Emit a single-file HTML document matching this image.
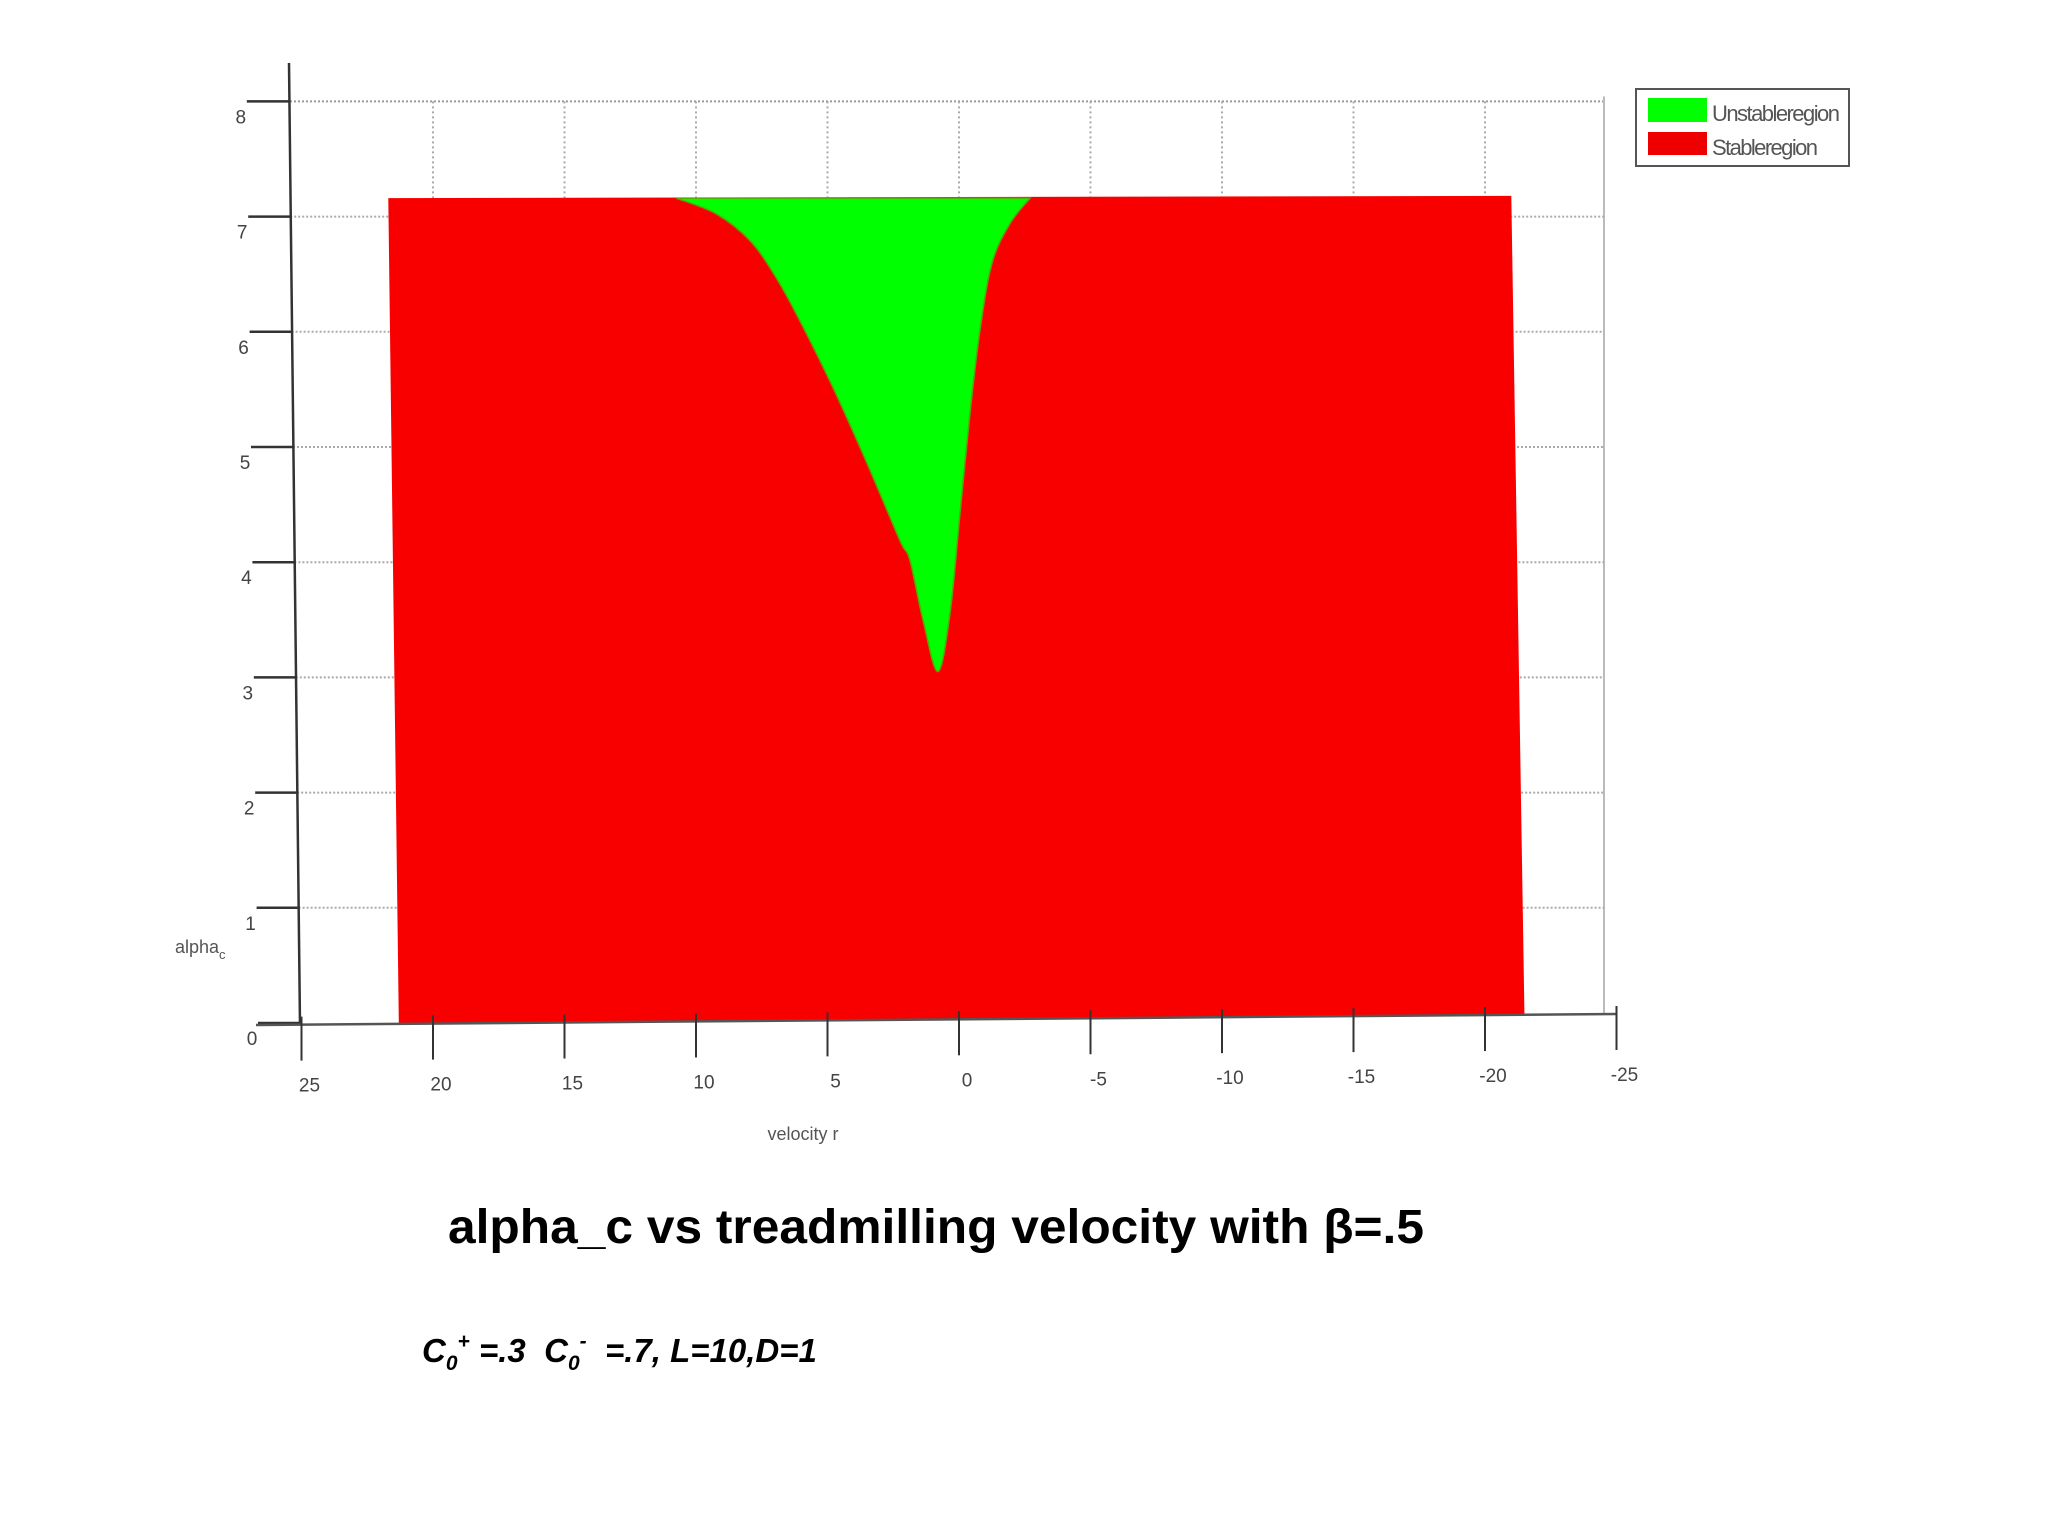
<!DOCTYPE html>
<html><head><meta charset="utf-8"><style>
html,body{margin:0;padding:0;background:#fff;}
svg{display:block;}
text{font-family:"Liberation Sans",sans-serif;}
</style></head><body>
<svg id="chart" width="2048" height="1536" viewBox="0 0 2048 1536" xmlns="http://www.w3.org/2000/svg">
<g id="grid"></g>
<g id="plot"></g>
<g id="axes"></g>
<g>
<rect x="1636" y="89" width="213" height="77" fill="#fff" stroke="#555" stroke-width="2"/>
<rect x="1648" y="98" width="59" height="24" fill="#00ff00"/>
<text x="1712" y="121" font-size="22" fill="#555" textLength="128">Unstableregion</text>
<rect x="1648" y="132" width="59" height="23" fill="#ee0000"/>
<text x="1712" y="155" font-size="22" fill="#555" textLength="106">Stableregion</text>
</g>
<text x="803" y="1140" font-size="18" fill="#555" text-anchor="middle">velocity r</text>
<text x="175" y="953" font-size="18" fill="#555">alpha<tspan font-size="13" dy="6">c</tspan></text>
<text x="448" y="1243" font-size="48" font-weight="bold" fill="#000" textLength="976" lengthAdjust="spacingAndGlyphs">alpha_c vs treadmilling velocity with β=.5</text>
<text x="422" y="1362" font-size="33" font-weight="bold" font-style="italic" fill="#000" style="white-space:pre">C<tspan font-size="21" dy="8">0</tspan><tspan font-size="21" dy="-22">+</tspan><tspan dy="14"> =.3  C</tspan><tspan font-size="21" dy="8">0</tspan><tspan font-size="21" dy="-22">-</tspan><tspan dy="14">  =.7, L=10,D=1</tspan></text>
</svg>
<script>
const xTicks = [25, 20, 15, 10, 5, 0, -5, -10, -15, -20, -25];
const yTicks = [0, 1, 2, 3, 4, 5, 6, 7, 8];
// stable region corners (velocity, alpha)
const stableV = [21.7, -21.0, -21.5, 21.3];
const stableA = [7.16, 7.18, 0.07, 0];
// unstable region boundary (velocity, alpha)
const unstableV = [10.74, 9.2, 7.9, 6.9, 6.06, 4.80, 3.50, 2.25, 1.87, 1.37, 0.80, 0.34, -0.04, -0.42, -0.80, -1.26, -1.94, -2.70];
const unstableA = [7.16, 7.02, 6.78, 6.45, 6.10, 5.52, 4.86, 4.19, 4.02, 3.50, 3.05, 3.56, 4.43, 5.30, 6.02, 6.60, 6.94, 7.16];

const NS = 'http://www.w3.org/2000/svg';
function X(v){ return 959 - v * 26.3; }
function Y(a){ return 1023 - a * 115.2; }
function mk(tag, attrs, parent){ const e = document.createElementNS(NS, tag); for (const k in attrs) e.setAttribute(k, attrs[k]); parent.appendChild(e); return e; }
const grid = document.getElementById('grid'), plot = document.getElementById('plot'), axes = document.getElementById('axes');

const topLine = mk('line', {x1: 290, y1: Y(8), x2: 1604, y2: Y(8), stroke: '#999', 'stroke-width': 2, 'stroke-dasharray': '2 2'}, grid);


const rightLine = mk('line', {x1: 1604, y1: Y(8) - 5, x2: 1604, y2: 1015, stroke: '#bbb', 'stroke-width': 2}, grid);


xTicks.slice(1, 10).forEach(v => {
  const l = mk('line', {x1: X(v), y1: Y(8), x2: X(v), y2: 1015, stroke: '#aaa', 'stroke-width': 2, 'stroke-dasharray': '2 3'}, grid);
  
  
});
yTicks.slice(1, 8).forEach(a => {
  const l = mk('line', {x1: 300 - 1.4 * a, y1: Y(a), x2: 1604, y2: Y(a), stroke: '#aaa', 'stroke-width': 2, 'stroke-dasharray': '2 2'}, grid);
  
  
});

const sp = stableV.map((v, i) => X(v) + ',' + Y(stableA[i])).join(' ');
const stable = mk('polygon', {points: sp, fill: '#f90000'}, plot);



const pts = unstableV.map((v, i) => [X(v), Y(unstableA[i])]);
let d = 'M' + pts[0][0] + ',' + pts[0][1];
for (let i = 0; i < pts.length - 1; i++) {
  const p0 = pts[Math.max(i - 1, 0)], p1 = pts[i], p2 = pts[i + 1], p3 = pts[Math.min(i + 2, pts.length - 1)];
  const c1 = [p1[0] + (p2[0] - p0[0]) / 6, p1[1] + (p2[1] - p0[1]) / 6];
  const c2 = [p2[0] - (p3[0] - p1[0]) / 6, p2[1] - (p3[1] - p1[1]) / 6];
  d += ' C' + c1[0] + ',' + c1[1] + ' ' + c2[0] + ',' + c2[1] + ' ' + p2[0] + ',' + p2[1];
}
d += ' Z';
const unstable = mk('path', {d: d, fill: '#00ff00', stroke: '#55aa00', 'stroke-width': 1.5}, plot);



const yAxis = mk('line', {x1: 289, y1: 63, x2: 300, y2: 1025, stroke: '#333', 'stroke-width': 2.5}, axes);


yTicks.forEach(a => {
  const xa = 300 - 1.4 * a;
  const t = mk('line', {x1: xa - 42, y1: Y(a), x2: xa, y2: Y(a), stroke: '#333', 'stroke-width': 2.5}, axes);
  
  
  const lb = mk('text', {x: xa - 48, y: Y(a) + 22, 'font-size': 19, fill: '#444', 'text-anchor': 'middle'}, axes);
  lb.textContent = a;
  
  
});

const xAxis = mk('line', {x1: 256, y1: 1025, x2: 1617, y2: 1014, stroke: '#555', 'stroke-width': 2.5}, axes);


xTicks.forEach(v => {
  const yb = 1025 - (X(v) - 256) / 1361 * 11;
  const t = mk('line', {x1: X(v), y1: yb - 8, x2: X(v), y2: yb + 36, stroke: '#333', 'stroke-width': 2}, axes);
  
  
  const lb = mk('text', {x: X(v) + 8, y: yb + 67, 'font-size': 19, fill: '#444', 'text-anchor': 'middle'}, axes);
  lb.textContent = v;
  
  
});
</script>
</body></html>
